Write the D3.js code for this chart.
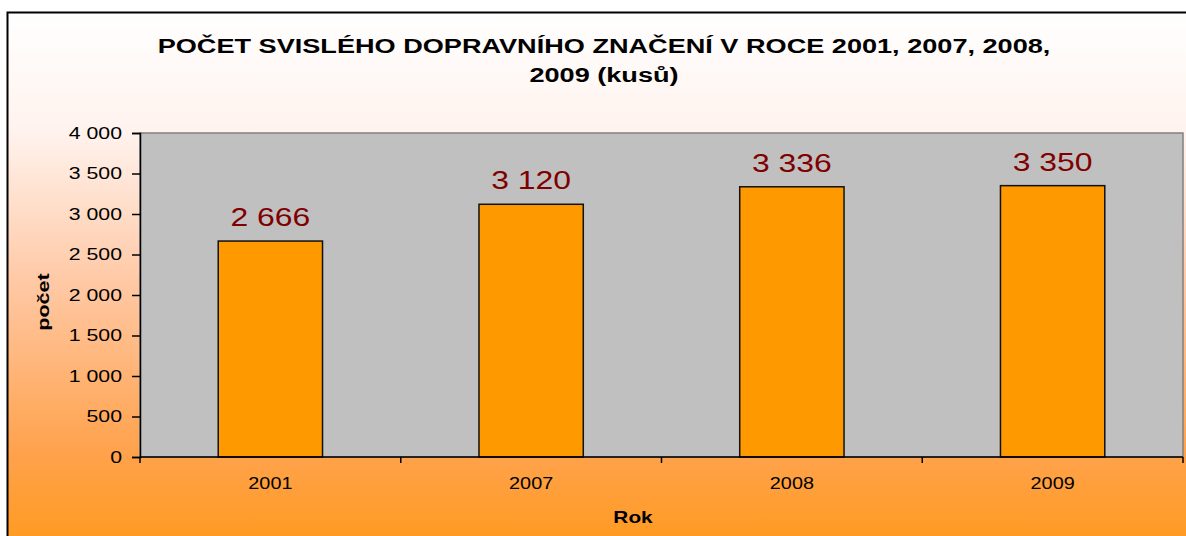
<!DOCTYPE html>
<html>
<head>
<meta charset="utf-8">
<script src="https://cdn.jsdelivr.net/npm/d3@7"></script>
<style>
  body { margin: 0; background: #fff; }
  svg { display: block; font-family: "Liberation Sans", Arial, sans-serif; }
</style>
</head>
<body>
<svg id="chart"></svg>
<script>
var years = ["2001", "2007", "2008", "2009"];
var counts = [2666, 3120, 3336, 3350];
var yTicks = [0, 500, 1000, 1500, 2000, 2500, 3000, 3500, 4000];
var titleLines = ["POČET SVISLÉHO DOPRAVNÍHO ZNAČENÍ V ROCE 2001, 2007, 2008,", "2009 (kusů)"];

var width = 1186, height = 536;
var plot = { left: 140, top: 133, right: 1183, bottom: 457 };

var svg = d3.select("#chart").attr("width", width).attr("height", height);

// the original text is drawn wider than normal, so stretch it sideways
function stretch(sel, s) {
    sel.each(function() {
        var t = d3.select(this);
        var tx = +t.attr("x") || 0, ty = +t.attr("y") || 0;
        t.attr("x", 0).attr("y", 0)
         .attr("transform", "translate(" + tx + "," + ty + ") scale(" + s + ",1)");
    });
}

// background gradient of the chart frame
var defs = svg.append("defs");
var grad = defs.append("linearGradient")
    .attr("id", "bg")
    .attr("x1", 0).attr("y1", 0).attr("x2", 0).attr("y2", 1);
[[0, "#ffffff"], [0.22, "#fff3ee"], [0.5, "#ffc9a6"], [0.82, "#ffa24c"], [1, "#ff9a1e"]].forEach(function(s) {
    grad.append("stop").attr("offset", s[0]).attr("stop-color", s[1]);
});

svg.append("rect")
    .attr("x", 7.5).attr("y", 12.5)
    .attr("width", width + 20).attr("height", height)
    .attr("fill", "url(#bg)")
    .attr("stroke", "#000")
    .attr("stroke-width", 2);

// title
var title = svg.selectAll(".title")
    .data(titleLines)
    .enter()
    .append("text")
    .attr("class", "title")
    .attr("x", 604)
    .attr("y", function(d, i) { return 53 + i * 29; })
    .attr("text-anchor", "middle")
    .attr("font-weight", "bold")
    .attr("font-size", "19.5px")
    .attr("fill", "#000")
    .text(function(d) { return d; });
stretch(title, 1.39);

var x = d3.scaleBand()
    .domain(years)
    .range([plot.left, plot.right])
    .paddingInner(0.6)
    .paddingOuter(0.3);

var y = d3.scaleLinear()
    .domain([0, 4000])
    .range([plot.bottom, plot.top]);

// plot area
svg.append("rect")
    .attr("x", plot.left).attr("y", plot.top)
    .attr("width", plot.right - plot.left)
    .attr("height", plot.bottom - plot.top)
    .attr("fill", "#c0c0c0")
    .attr("stroke", "#808080")
    .attr("stroke-width", 1.5);

// bars
svg.selectAll(".bar")
    .data(counts)
    .enter()
    .append("rect")
    .attr("class", "bar")
    .attr("x", function(d, i) { return x(years[i]); })
    .attr("y", function(d) { return y(d); })
    .attr("width", x.bandwidth())
    .attr("height", function(d) { return y(0) - y(d); })
    .attr("fill", "#ff9900")
    .attr("stroke", "#111")
    .attr("stroke-width", 1.5);

var fmt = function(v) { return d3.format(",")(v).replace(/,/g, " "); };

// value labels
var vals = svg.selectAll(".val")
    .data(counts)
    .enter()
    .append("text")
    .attr("class", "val")
    .attr("x", function(d, i) { return x(years[i]) + x.bandwidth() / 2; })
    .attr("y", function(d) { return y(d) - 15; })
    .attr("text-anchor", "middle")
    .attr("font-size", "25.5px")
    .attr("fill", "#800000")
    .text(fmt);
stretch(vals, 1.25);

// y axis
var yAxis = svg.append("g")
    .attr("transform", "translate(" + plot.left + ",0)")
    .call(d3.axisLeft(y).tickValues(yTicks).tickSize(8).tickPadding(10).tickFormat(fmt));
yAxis.selectAll("text")
    .attr("font-size", "16px").attr("fill", "#000")
    .attr("font-family", "Liberation Sans, Arial, sans-serif");
stretch(yAxis.selectAll("text"), 1.33);
yAxis.selectAll("line").attr("stroke", "#000").attr("stroke-width", 1.5);
yAxis.select(".domain").attr("stroke", "#000").attr("stroke-width", 1.5);

// x axis with ticks at band edges
var edges = d3.range(years.length + 1).map(function(i) { return plot.left + i * (plot.right - plot.left) / years.length; });
svg.append("line")
    .attr("x1", plot.left).attr("x2", plot.right)
    .attr("y1", plot.bottom).attr("y2", plot.bottom)
    .attr("stroke", "#000").attr("stroke-width", 1.5);
svg.selectAll(".xtick")
    .data(edges)
    .enter()
    .append("line")
    .attr("x1", function(d) { return d; }).attr("x2", function(d) { return d; })
    .attr("y1", plot.bottom).attr("y2", plot.bottom + 6)
    .attr("stroke", "#000").attr("stroke-width", 1.5);
var xl = svg.selectAll(".xlab")
    .data(years)
    .enter()
    .append("text")
    .attr("x", function(d) { return x(d) + x.bandwidth() / 2; })
    .attr("y", 489)
    .attr("text-anchor", "middle")
    .attr("font-size", "16px")
    .attr("fill", "#000")
    .text(function(d) { return d; });
stretch(xl, 1.24);

// axis titles
var rok = svg.append("text")
    .attr("x", 633).attr("y", 523)
    .attr("text-anchor", "middle")
    .attr("font-size", "16px")
    .attr("font-weight", "bold")
    .text("Rok");
stretch(rok, 1.3);

svg.append("text")
    .attr("transform", "translate(49,302) rotate(-90) scale(1.35,1)")
    .attr("text-anchor", "middle")
    .attr("font-size", "16px")
    .attr("font-weight", "bold")
    .text("počet");
</script>
</body>
</html>
